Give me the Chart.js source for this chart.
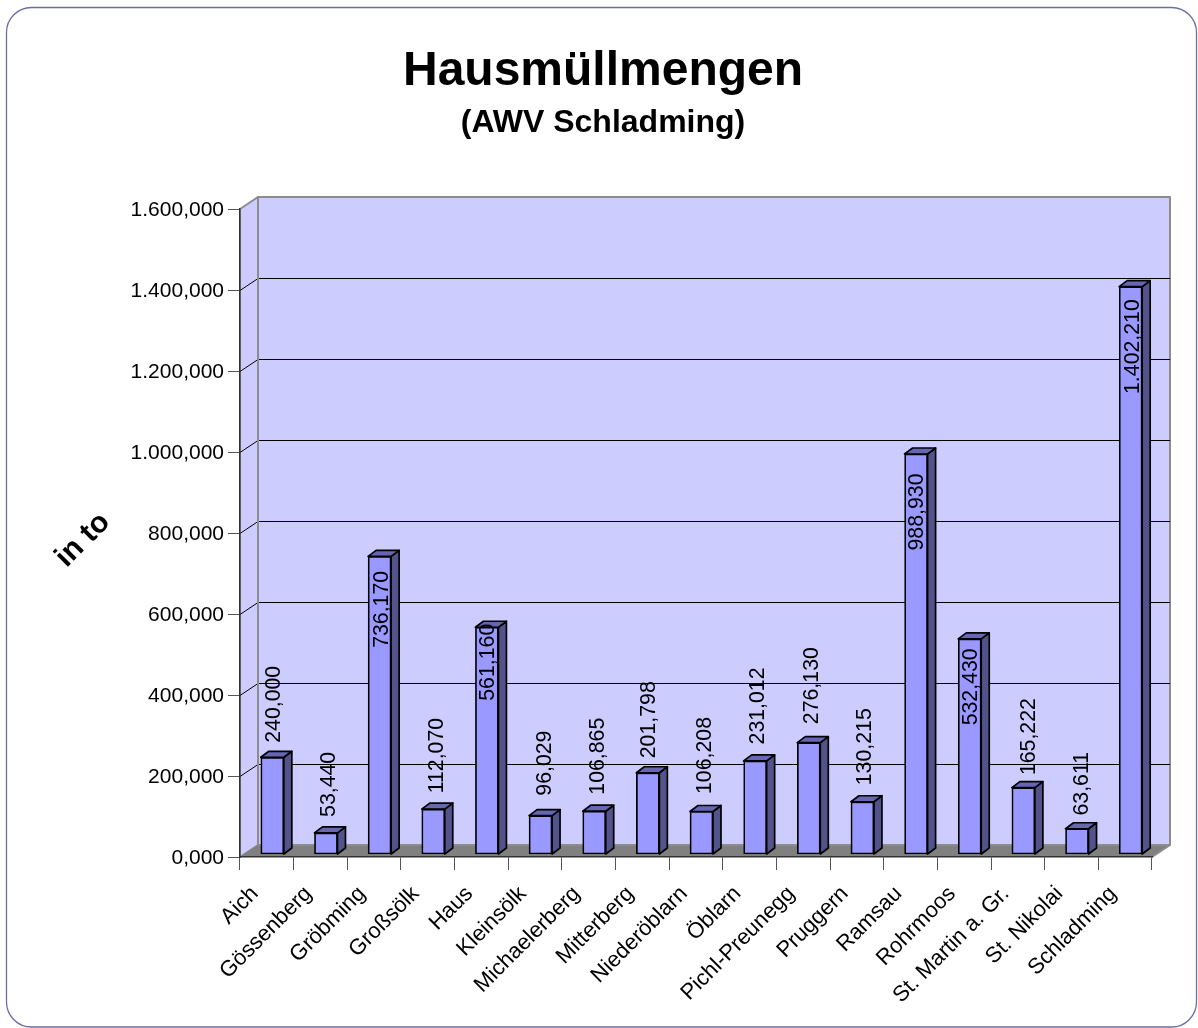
<!DOCTYPE html>
<html><head><meta charset="utf-8">
<style>html,body{margin:0;padding:0;background:#fff}#w{width:1198px;height:1028px;position:relative}</style>
<script src="https://cdn.jsdelivr.net/npm/chart.js@4"></script>
</head><body><div id="w"><canvas id="c" width="1198" height="1028"></canvas></div>
<script>
const categories = ["Aich","Gössenberg","Gröbming","Großsölk","Haus","Kleinsölk","Michaelerberg","Mitterberg","Niederöblarn","Öblarn","Pichl-Preunegg","Pruggern","Ramsau","Rohrmoos","St. Martin a. Gr.","St. Nikolai","Schladming"];
const tonnes = [240.000,53.440,736.170,112.070,561.160,96.029,106.865,201.798,106.208,231.012,276.130,130.215,988.930,532.430,165.222,63.611,1402.210];
const labelGaps = [53,48.5,53,53.5,35,52.5,55,53,56,55,57,55,58,48,51,45,60];
const labelDx = [1.5,3.5,2.5,3.5,1.5,4.5,3.5,1.5,3.5,2.5,3.5,2.5,1.5,1.5,5.5,5.5,2.5];
const FONT = '"Liberation Sans", Arial, sans-serif';
const WALL = {dx:18, dy:-12}, SHIFT = {dx:5.5, dy:-2.5}, DEPTH = {dx:8, dy:-6};

function fmt(v){
  const s = Number(v).toFixed(3).split('.');
  return s[0].replace(/\B(?=(\d{3})+$)/g,'.') + ',' + s[1];
}
function poly(ctx, pts, fill, stroke, lw){
  ctx.beginPath();
  pts.forEach((p,i)=> i?ctx.lineTo(p[0],p[1]):ctx.moveTo(p[0],p[1]));
  ctx.closePath();
  if(fill){ctx.fillStyle=fill;ctx.fill();}
  if(stroke){ctx.strokeStyle=stroke;ctx.lineWidth=lw||1;ctx.lineJoin='round';ctx.stroke();}
}
const scene = {
  id:'scene',
  beforeDraw(chart){
    const {ctx, chartArea:a, scales:{y}} = chart;
    ctx.save();
    ctx.fillStyle='#fff';ctx.fillRect(0,0,chart.width,chart.height);
    ctx.beginPath();ctx.roundRect(6.5,7.5,1190,1019.5,25);
    ctx.strokeStyle='#6c6ca6';ctx.lineWidth=1.3;ctx.stroke();
    const L=a.left,R=a.right,T=a.top,B=a.bottom,dx=WALL.dx,dy=WALL.dy;
    poly(ctx,[[L+dx,T+dy],[R+dx,T+dy],[R+dx,B+dy],[L+dx,B+dy]],'#ccccff','#8c8c8c',2);
    poly(ctx,[[L,T],[L+dx,T+dy],[L+dx,B+dy],[L,B]],'#ccccff','#8c8c8c',2);
    y.ticks.forEach(t=>{
      if(t.value===0||t.value===y.max) return;
      const p=Math.round(y.getPixelForValue(t.value))+.5;
      ctx.strokeStyle='#000';ctx.lineWidth=1;
      ctx.beginPath();ctx.moveTo(L,p);ctx.lineTo(L+dx,p+dy);ctx.lineTo(R+dx,p+dy);ctx.stroke();
    });
    poly(ctx,[[L,B],[L+dx,B+dy],[R+dx,B+dy],[R,B]],'#808080');
    ctx.strokeStyle='#8c8c8c';ctx.lineWidth=2;
    ctx.beginPath();ctx.moveTo(L+dx,T+dy);ctx.lineTo(L+dx,B+dy);ctx.lineTo(R+dx,B+dy);ctx.lineTo(R,B);ctx.stroke();
    ctx.restore();
  },
  beforeDatasetDraw(chart,args){
    const ctx=chart.ctx;
    ctx.save();
    ctx.translate(SHIFT.dx,SHIFT.dy);
    args.meta.data.forEach(b=>{
      const l=b.x-b.width/2,r=b.x+b.width/2,t=b.y,base=b.base,dx=DEPTH.dx,dy=DEPTH.dy;
      poly(ctx,[[r,t],[r+dx,t+dy],[r+dx,base+dy],[r,base]],'#53538c','#000',1.7);
      poly(ctx,[[l,t],[l+dx,t+dy],[r+dx,t+dy],[r,t]],'#6666b3','#000',1.7);
    });
  },
  afterDatasetDraw(chart){ chart.ctx.restore(); },
  afterDatasetsDraw(chart){
    const ctx=chart.ctx, meta=chart.getDatasetMeta(0);
    ctx.save();
    ctx.fillStyle='#000';
    ctx.font='21.3px '+FONT;
    ctx.textAlign='center';ctx.textBaseline='middle';
    meta.data.forEach((b,i)=>{
      ctx.save();
      const sign = tonnes[i]>500 ? 1 : -1;
      ctx.translate(b.x+SHIFT.dx+labelDx[i], b.y+SHIFT.dy+sign*labelGaps[i]);
      ctx.rotate(-Math.PI/2);
      ctx.fillText(fmt(tonnes[i]),0,0);
      ctx.restore();
    });
    ctx.font='bold 30px '+FONT;
    ctx.translate(83,540);ctx.rotate(-Math.PI/4);
    ctx.fillText('in to',0,0);
    ctx.restore();
  }
};
new Chart(document.getElementById('c'),{
  type:'bar',
  data:{labels:categories,datasets:[{data:tonnes,backgroundColor:'#9999ff',borderColor:'#000',borderWidth:1.7,borderSkipped:false,barThickness:23,clip:false}]},
  plugins:[scene],
  options:{
    responsive:false,animation:false,
    layout:{padding:{left:54,right:46,top:0,bottom:0}},
    plugins:{
      legend:{display:false},tooltip:{enabled:false},
      title:{display:true,text:'Hausmüllmengen',color:'#000',font:{family:FONT,size:48,weight:'bold',lineHeight:1},padding:{top:48,bottom:11}},
      subtitle:{display:true,text:'(AWV Schladming)',color:'#000',font:{family:FONT,size:32,weight:'bold',lineHeight:1},padding:{top:0,bottom:70}}
    },
    scales:{
      x:{
        grid:{drawOnChartArea:false,color:'#555',tickLength:13,offset:true},
        border:{color:'#333',width:1.5},
        ticks:{color:'#000',font:{family:FONT,size:22},minRotation:45,maxRotation:45,autoSkip:false,padding:11,labelOffset:-12},
        afterFit(s){s.height=171;}
      },
      y:{
        min:0,max:1600,
        grid:{drawOnChartArea:false,color:'#555',tickLength:12},
        border:{color:'#333',width:1.5},
        ticks:{stepSize:200,color:'#000',font:{family:FONT,size:21},padding:4,labelOffset:1,callback:v=>fmt(v)},
        afterFit(s){s.width=186;}
      }
    }
  }
});
</script></body></html>
